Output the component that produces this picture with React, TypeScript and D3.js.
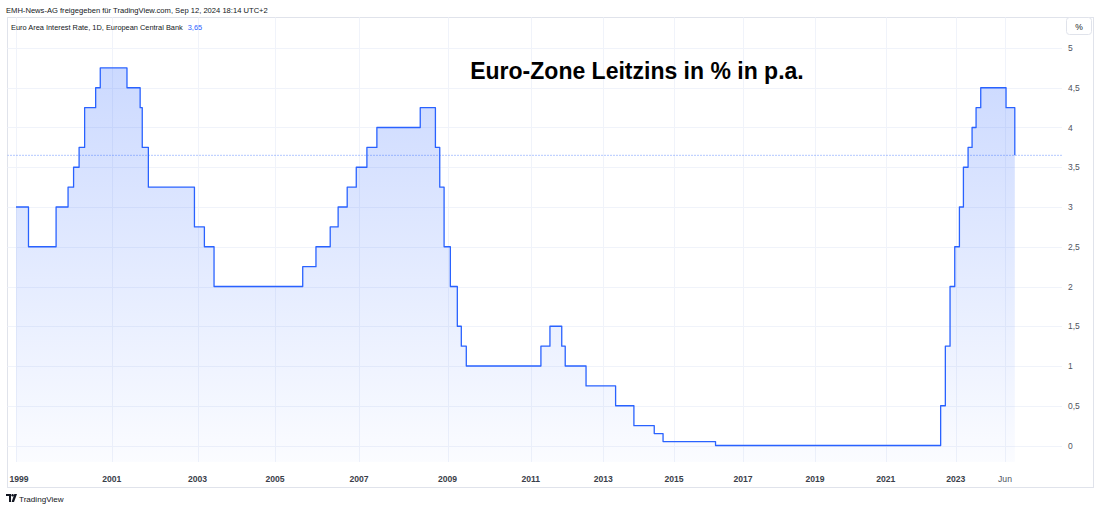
import React from "react";
import * as d3 from "d3";

// ECB main refinancing rate: dates of change and the rate in effect afterwards
const changeDates = [
  "1999-01-04", "1999-04-09", "1999-11-05", "2000-02-04", "2000-03-17", "2000-04-28",
  "2000-06-09", "2000-09-01", "2000-10-06", "2001-05-11", "2001-08-31", "2001-09-18",
  "2001-11-09", "2002-12-06", "2003-03-07", "2003-06-06", "2005-12-06", "2006-03-08",
  "2006-06-15", "2006-08-09", "2006-10-11", "2006-12-13", "2007-03-14", "2007-06-13",
  "2008-07-09", "2008-10-15", "2008-11-12", "2008-12-10", "2009-01-21", "2009-03-11",
  "2009-04-08", "2009-05-13", "2011-04-13", "2011-07-13", "2011-11-09", "2011-12-14",
  "2012-07-11", "2013-05-08", "2013-11-13", "2014-06-11", "2014-09-10", "2016-03-16",
  "2022-07-27", "2022-09-14", "2022-11-02", "2022-12-21", "2023-02-08", "2023-03-22",
  "2023-05-10", "2023-06-21", "2023-08-02", "2023-09-20", "2024-06-12", "2024-09-12",
];
const rates = [
  3.0, 2.5, 3.0, 3.25, 3.5, 3.75,
  4.25, 4.5, 4.75, 4.5, 4.25, 3.75,
  3.25, 2.75, 2.5, 2.0, 2.25, 2.5,
  2.75, 3.0, 3.25, 3.5, 3.75, 4.0,
  4.25, 3.75, 3.25, 2.5, 2.0, 1.5,
  1.25, 1.0, 1.25, 1.5, 1.25, 1.0,
  0.75, 0.5, 0.25, 0.15, 0.05, 0.0,
  0.5, 1.25, 2.0, 2.5, 3.0, 3.5,
  3.75, 4.0, 4.25, 4.5, 4.25, 3.65,
];
const lastValueLabel = "3,65";
const yTicks = [0, 0.5, 1, 1.5, 2, 2.5, 3, 3.5, 4, 4.5, 5];
const xTickDates = [
  "1999-01-04", "2001-01-01", "2003-01-01", "2005-01-01", "2007-01-01", "2009-01-01",
  "2011-01-01", "2013-01-01", "2015-01-01", "2017-01-01", "2019-01-01", "2021-01-01",
  "2023-01-01", "2024-06-01",
];
const xTickLabels = [
  "1999", "2001", "2003", "2005", "2007", "2009", "2011", "2013", "2015", "2017",
  "2019", "2021", "2023", "Jun",
];

// Time axis of the chart is bar-based (non-uniform); approximate with a polylinear time scale
const axisAnchorDates = [
  "1999-01-04", "2001-01-01", "2003-01-01", "2005-01-01", "2005-12-01", "2007-01-01",
  "2008-07-01", "2009-01-01", "2009-06-01", "2011-01-01", "2013-01-01", "2015-01-01",
  "2017-01-01", "2019-01-01", "2021-01-01", "2023-01-01", "2024-06-01",
];
const axisAnchorPx = [
  16, 111.7, 197.5, 275, 302, 359, 419, 447.5, 469, 530.8, 603.3, 674, 743, 815,
  885.8, 955.8, 1005,
];

const W = 1100;
const H = 509;
const FRAME = { left: 7.5, top: 17.5, right: 1093.5, bottom: 487.5 };
const PLOT_RIGHT = 1062;
const PLOT_BOTTOM = 462;
const BLUE = "#2962FF";
const FONT = "'Liberation Sans', Arial, sans-serif";

const fmt = (v: number) => String(v).replace(".", ",");

export default function App() {
  const parse = d3.utcParse("%Y-%m-%d");
  const x = d3
    .scaleUtc()
    .domain(axisAnchorDates.map((d) => parse(d) as Date))
    .range(axisAnchorPx);
  const y = d3.scaleLinear().domain([0, 5]).range([445.5, 48]);

  const data = changeDates.map((d, i) => ({ date: parse(d) as Date, v: rates[i] }));

  const line = d3
    .line<{ date: Date; v: number }>()
    .x((d) => x(d.date))
    .y((d) => y(d.v))
    .curve(d3.curveStepAfter);
  const area = d3
    .area<{ date: Date; v: number }>()
    .x((d) => x(d.date))
    .y0(PLOT_BOTTOM)
    .y1((d) => y(d.v))
    .curve(d3.curveStepAfter);

  const last = data[data.length - 1];

  return (
    <div style={{ position: "absolute", left: 0, top: 0, width: W, height: H, background: "#fff" }}>
      <svg width={W} height={H} style={{ display: "block", fontFamily: FONT }}>
        <defs>
          <linearGradient id="fillGrad" gradientUnits="userSpaceOnUse" x1="0" y1={y(4.75)} x2="0" y2={PLOT_BOTTOM}>
            <stop offset="0" stopColor={BLUE} stopOpacity={0.24} />
            <stop offset="1" stopColor={BLUE} stopOpacity={0.02} />
          </linearGradient>
          <clipPath id="plotClip">
            <rect x={FRAME.left} y={FRAME.top} width={PLOT_RIGHT - FRAME.left} height={PLOT_BOTTOM - FRAME.top} />
          </clipPath>
        </defs>
        <rect x={0} y={0} width={W} height={H} fill="#fff" />

        {/* header */}
        <text x={6} y={12.5} fontSize={7.6} fill="#131722">
          EMH-News-AG freigegeben für TradingView.com, Sep 12, 2024 18:14 UTC+2
        </text>

        {/* frame */}
        <rect x={FRAME.left} y={FRAME.top} width={FRAME.right - FRAME.left} height={FRAME.bottom - FRAME.top}
          fill="none" stroke="#e0e3eb" strokeWidth={1} />

        {/* grid */}
        <g stroke="#f0f3fa" strokeWidth={1}>
          {yTicks.map((t) => (
            <line key={"gy" + t} x1={FRAME.left} x2={PLOT_RIGHT} y1={Math.round(y(t)) + 0.5} y2={Math.round(y(t)) + 0.5} />
          ))}
          {xTickDates.map((d, i) => {
            const px = Math.round(x(parse(d) as Date)) + 0.5;
            return <line key={"gx" + i} x1={px} x2={px} y1={FRAME.top} y2={PLOT_BOTTOM} />;
          })}
        </g>

        {/* area + line */}
        <g clipPath="url(#plotClip)">
          <path d={area(data) || ""} fill="url(#fillGrad)" />
          <line x1={FRAME.left} x2={PLOT_RIGHT} y1={y(last.v)} y2={y(last.v)}
            stroke={BLUE} strokeOpacity={0.7} strokeWidth={1} strokeDasharray="1 2" />
          <path d={line(data) || ""} fill="none" stroke={BLUE} strokeWidth={1.3} strokeLinejoin="round" />
        </g>

        {/* legend */}
        <text x={11} y={29.5} fontSize={7.4} fill="#131722">
          Euro Area Interest Rate, 1D, European Central Bank
          <tspan dx={5} fill={BLUE}>{lastValueLabel}</tspan>
        </text>

        {/* title */}
        <text x={637} y={78.5} textAnchor="middle" fontSize={23} fontWeight="bold" fill="#000">
          Euro-Zone Leitzins in % in p.a.
        </text>

        {/* y axis */}
        <rect x={1066.5} y={17.5} width={25} height={17} rx={3} fill="#fff" stroke="#e0e3eb" />
        <text x={1079} y={29.5} textAnchor="middle" fontSize={8.5} fill="#131722">%</text>
        {yTicks.map((t) => (
          <text key={"ty" + t} x={1068} y={y(t) + 3} fontSize={8.5} fill="#50535e">
            {fmt(t)}
          </text>
        ))}

        {/* x axis */}
        {xTickDates.map((d, i) => (
          <text key={"tx" + i} x={i === 0 ? 19 : x(parse(d) as Date)} y={482} textAnchor="middle"
            fontSize={8.6} fontWeight={i === xTickLabels.length - 1 ? "normal" : "bold"}
            fill={i === xTickLabels.length - 1 ? "#50535e" : "#3a3e49"}>
            {xTickLabels[i]}
          </text>
        ))}

        {/* TradingView logo */}
        <g fill="#131722" transform="translate(6,494)">
          <path d="M0 0 H5 V8 H3 V2 H0 Z" />
          <circle cx={6.6} cy={1.2} r={1.2} />
          <path d="M8.3 0 H11 L8 8 H5.6 Z" />
        </g>
        <text x={19} y={501.5} fontSize={8.1} fill="#131722">TradingView</text>
      </svg>
    </div>
  );
}
